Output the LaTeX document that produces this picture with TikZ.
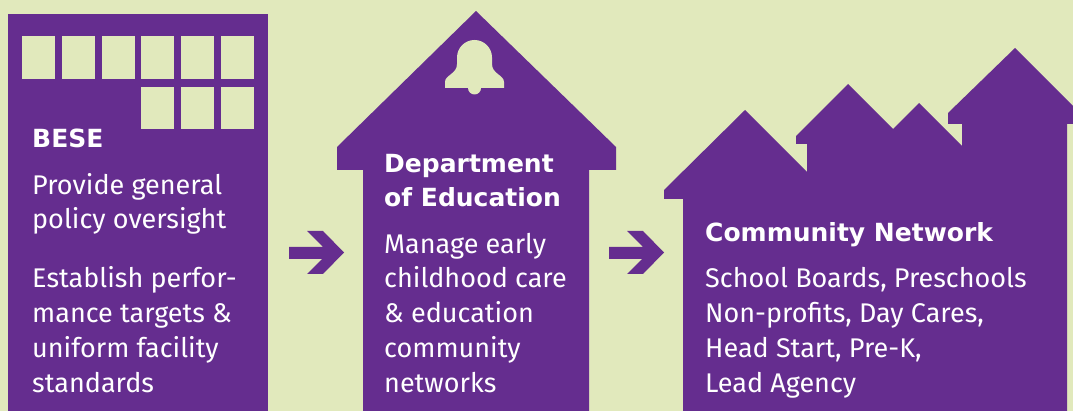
\documentclass[tikz,border=0pt]{standalone}
\usepackage{fontspec}
\setmainfont{Fira Sans}
\newfontfamily\headfont{DejaVu Sans}
\usetikzlibrary{positioning}
\definecolor{bgGreen}{HTML}{E1E9BC}
\definecolor{ldePurple}{HTML}{652D8F}

\begin{document}
\begin{tikzpicture}[
  x=1pt, y=-1pt,
  every node/.style = {inner sep=0pt, text=white, anchor=base west, align=left,
                       font=\fontsize{27}{34.7}\selectfont},
       head/.style = {font=\fontsize{25}{34}\headfont\bfseries},
       bldg/.style = {fill=ldePurple},
       pane/.style = {fill=bgGreen}
                    ]
\fill[bgGreen] (0,0) rectangle (1073,411);
\useasboundingbox (0,0) rectangle (1073,411);
% BESE office block
\fill[bldg] (8,14) rectangle (268,411);
\foreach \i in {0,...,5}
  \fill[pane] (22+39.8*\i,36) rectangle ++(33,43);
\foreach \i in {3,4,5}
  \fill[pane] (22+39.8*\i,87) rectangle ++(33,42);
% school house with bell
\fill[bldg] (363,411) -- (363,170) -- (337,170) -- (337,147) -- (476,11)
  -- (616,147) -- (616,170) -- (589,170) -- (589,411) -- cycle;
\fill[pane] (445,88) -- (445,82) .. controls (445,75) and (457,74) .. (457,64)
  -- (457,57.5) arc (180:360:17.5) -- (492,64)
  .. controls (492,74) and (504,75) .. (504,82) -- (504,88) -- cycle;
\fill[pane] (474.5,88) circle (6.5);
% row of houses
\fill[bldg] (683,411) -- (683,199) -- (664,199) -- (664,190) -- (745,110)
  -- (807,172) -- (807,144) -- (796,144) -- (796,136) -- (848,84)
  -- (893,129) -- (919,103) -- (962,146) -- (962,124) -- (948,124)
  -- (948,113) -- (1015,48) -- (1073,106) -- (1073,124) -- (1067,124)
  -- (1067,411) -- cycle;
% arrows
\foreach \dx in {0,320}
  \fill[bldg, xshift=\dx] (289,247) -- (323,247) -- (307,231) -- (323,231)
    -- (344,252.5) -- (323,274) -- (307,274) -- (322,259) -- (289,259) -- cycle;
% texts (anchored at the baseline of the last line)
\node[head] (bese)  at (32,148)  {BESE};
\node       (beseA) at (32,229)  {Provide general\\policy oversight};
\node       (beseB) at (32,392)  {Establish perfor-\\mance targets \&\\uniform facility\\standards};
\node[head] (dept)  at (384,207) {Department\\of Education};
\node       (deptA) at (384,392) {Manage early\\childhood care\\\& education\\community\\networks};
\node[head] (comm)  at (705,242) {Community Network};
\node       (commA) at (705,392) {School Boards, Preschools\\Non-profits, Day Cares,\\Head Start, Pre-K,\\Lead Agency};
\end{tikzpicture}
\end{document}
